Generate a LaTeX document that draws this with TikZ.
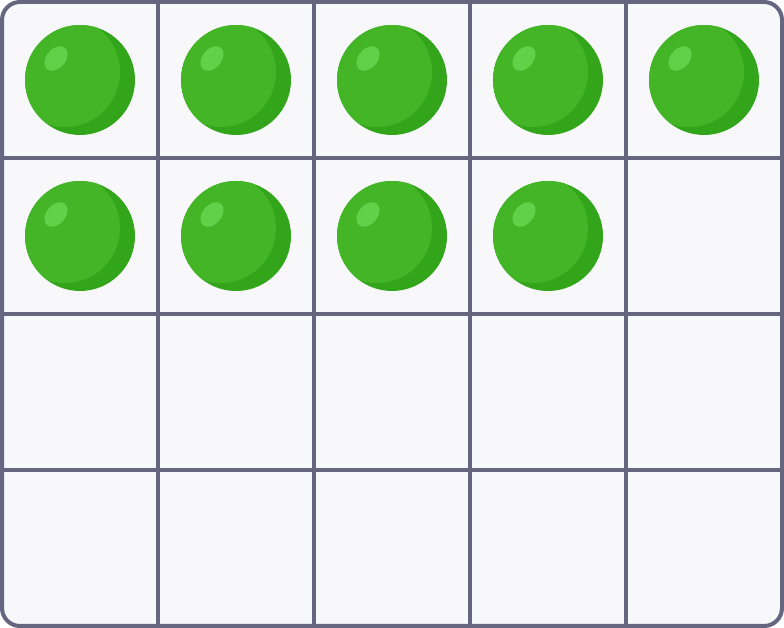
\documentclass[tikz,border=0pt]{standalone}
\usepackage{xcolor}
\definecolor{gridline}{HTML}{676680}
\definecolor{cellbg}{HTML}{F8F8FB}
\definecolor{balldark}{HTML}{33A51B}
\definecolor{balllight}{HTML}{43B527}
\definecolor{ballshine}{HTML}{62D14A}

\begin{document}
\begin{tikzpicture}[
    x=0.025cm, y=-0.025cm,
    frame/.style={draw=gridline, line width=0.1cm, rounded corners=0.45cm, fill=cellbg},
    grid/.style={draw=gridline, line width=0.1cm},
    ball/.pic={
        \fill[balldark] (0,0) circle[radius=55];
        \begin{scope}
            \clip (0,0) circle[radius=55];
            \fill[balllight] (-15,-8) circle[radius=55];
        \end{scope}
        \fill[ballshine, shift={(-24,-21.5)}, rotate=50] (0,0) ellipse[x radius=14, y radius=9.5];
    }
]
\useasboundingbox (0,0) rectangle (784,628);
\draw[frame] (2,2) rectangle (782,626);

\coordinate (t1) at (158,2);
\coordinate (t2) at (314,2);
\coordinate (t3) at (470,2);
\coordinate (t4) at (626,2);
\coordinate (b1) at (158,626);
\coordinate (b2) at (314,626);
\coordinate (b3) at (470,626);
\coordinate (b4) at (626,626);
\coordinate (l1) at (2,158);
\coordinate (l2) at (2,314);
\coordinate (l3) at (2,470);
\coordinate (r1) at (782,158);
\coordinate (r2) at (782,314);
\coordinate (r3) at (782,470);

\draw[grid] (t1) -- (b1);
\draw[grid] (t2) -- (b2);
\draw[grid] (t3) -- (b3);
\draw[grid] (t4) -- (b4);
\draw[grid] (l1) -- (r1);
\draw[grid] (l2) -- (r2);
\draw[grid] (l3) -- (r3);

\pic at (80,80) {ball};
\pic at (236,80) {ball};
\pic at (392,80) {ball};
\pic at (548,80) {ball};
\pic at (704,80) {ball};
\pic at (80,236) {ball};
\pic at (236,236) {ball};
\pic at (392,236) {ball};
\pic at (548,236) {ball};
\end{tikzpicture}
\end{document}
